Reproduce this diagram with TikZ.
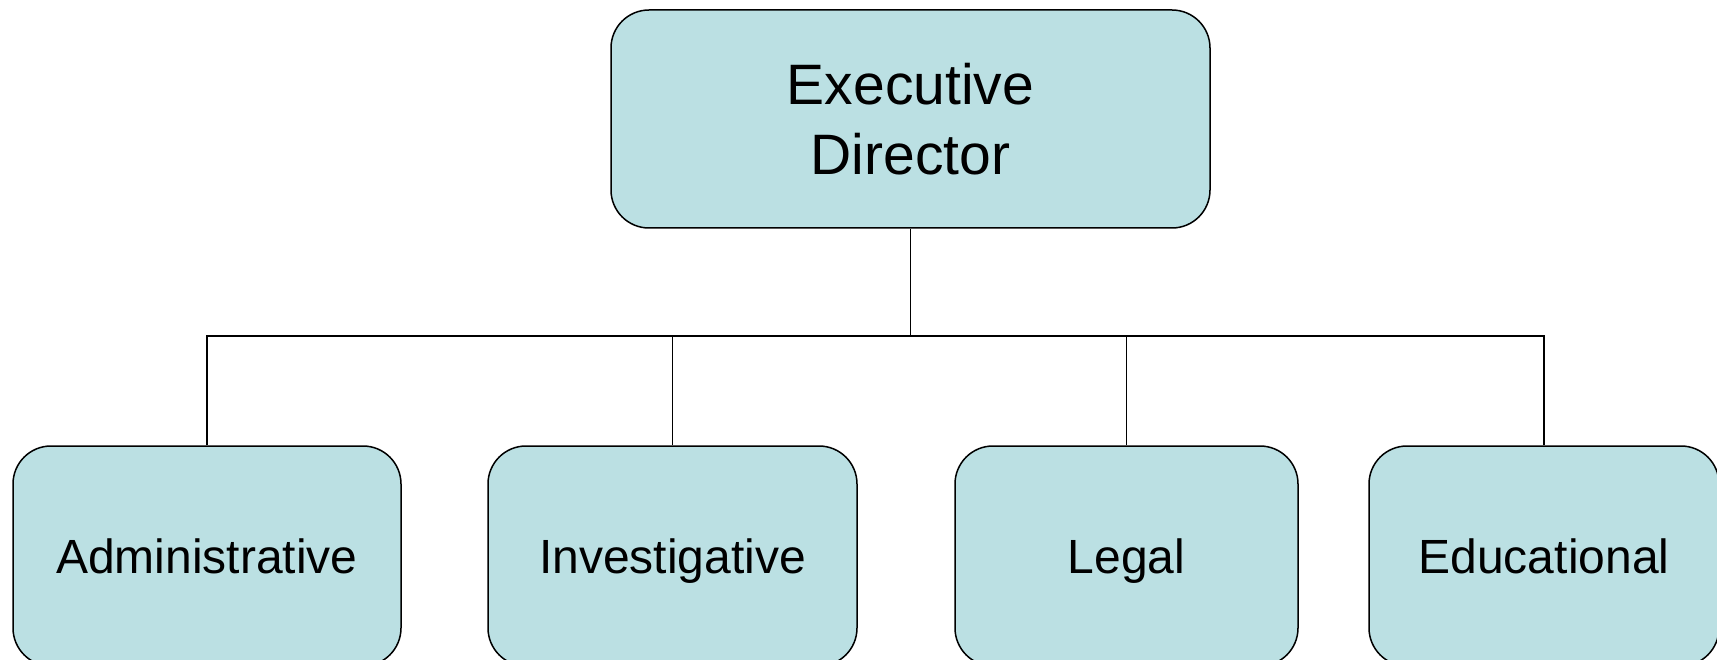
\documentclass[tikz,border=0pt]{standalone}
\usepackage{fontspec}
\setmainfont{Liberation Sans}
\definecolor{boxfill}{RGB}{187,224,227}
\begin{document}
\begin{tikzpicture}[x=1pt,y=-1pt,
  orgbox/.style={draw=black, line width=1.5pt, fill=boxfill, rounded corners=38pt,
    inner sep=0pt, align=center, text=black},
  topbox/.style={orgbox, minimum width=599pt, minimum height=218pt, font=\fontsize{57}{70}\selectfont},
  subbox/.style={orgbox, minimum height=220pt, text height=35pt, text depth=0pt, font=\fontsize{48}{58}\selectfont},
  link/.style={draw=black, line width=1.5pt}]
\useasboundingbox (0,0) rectangle (1717,660);
\node[topbox] (exec) at (910.5,119) {Executive\\Director};
\node[subbox, minimum width=388pt] (adm) at (207,556) {Administrative};
\node[subbox, minimum width=369pt] (inv) at (672.5,556) {Investigative};
\node[subbox, minimum width=343pt] (leg) at (1126.5,556) {Legal};
\node[subbox, minimum width=350pt] (edu) at (1544,556) {Educational};
\coordinate (bus) at (910.5,336);
\draw[link] (exec.south) -- (bus);
\draw[link] (adm.north) |- (bus);
\draw[link] (inv.north) |- (bus);
\draw[link] (leg.north) |- (bus);
\draw[link] (edu.north) |- (bus);
\end{tikzpicture}
\end{document}
